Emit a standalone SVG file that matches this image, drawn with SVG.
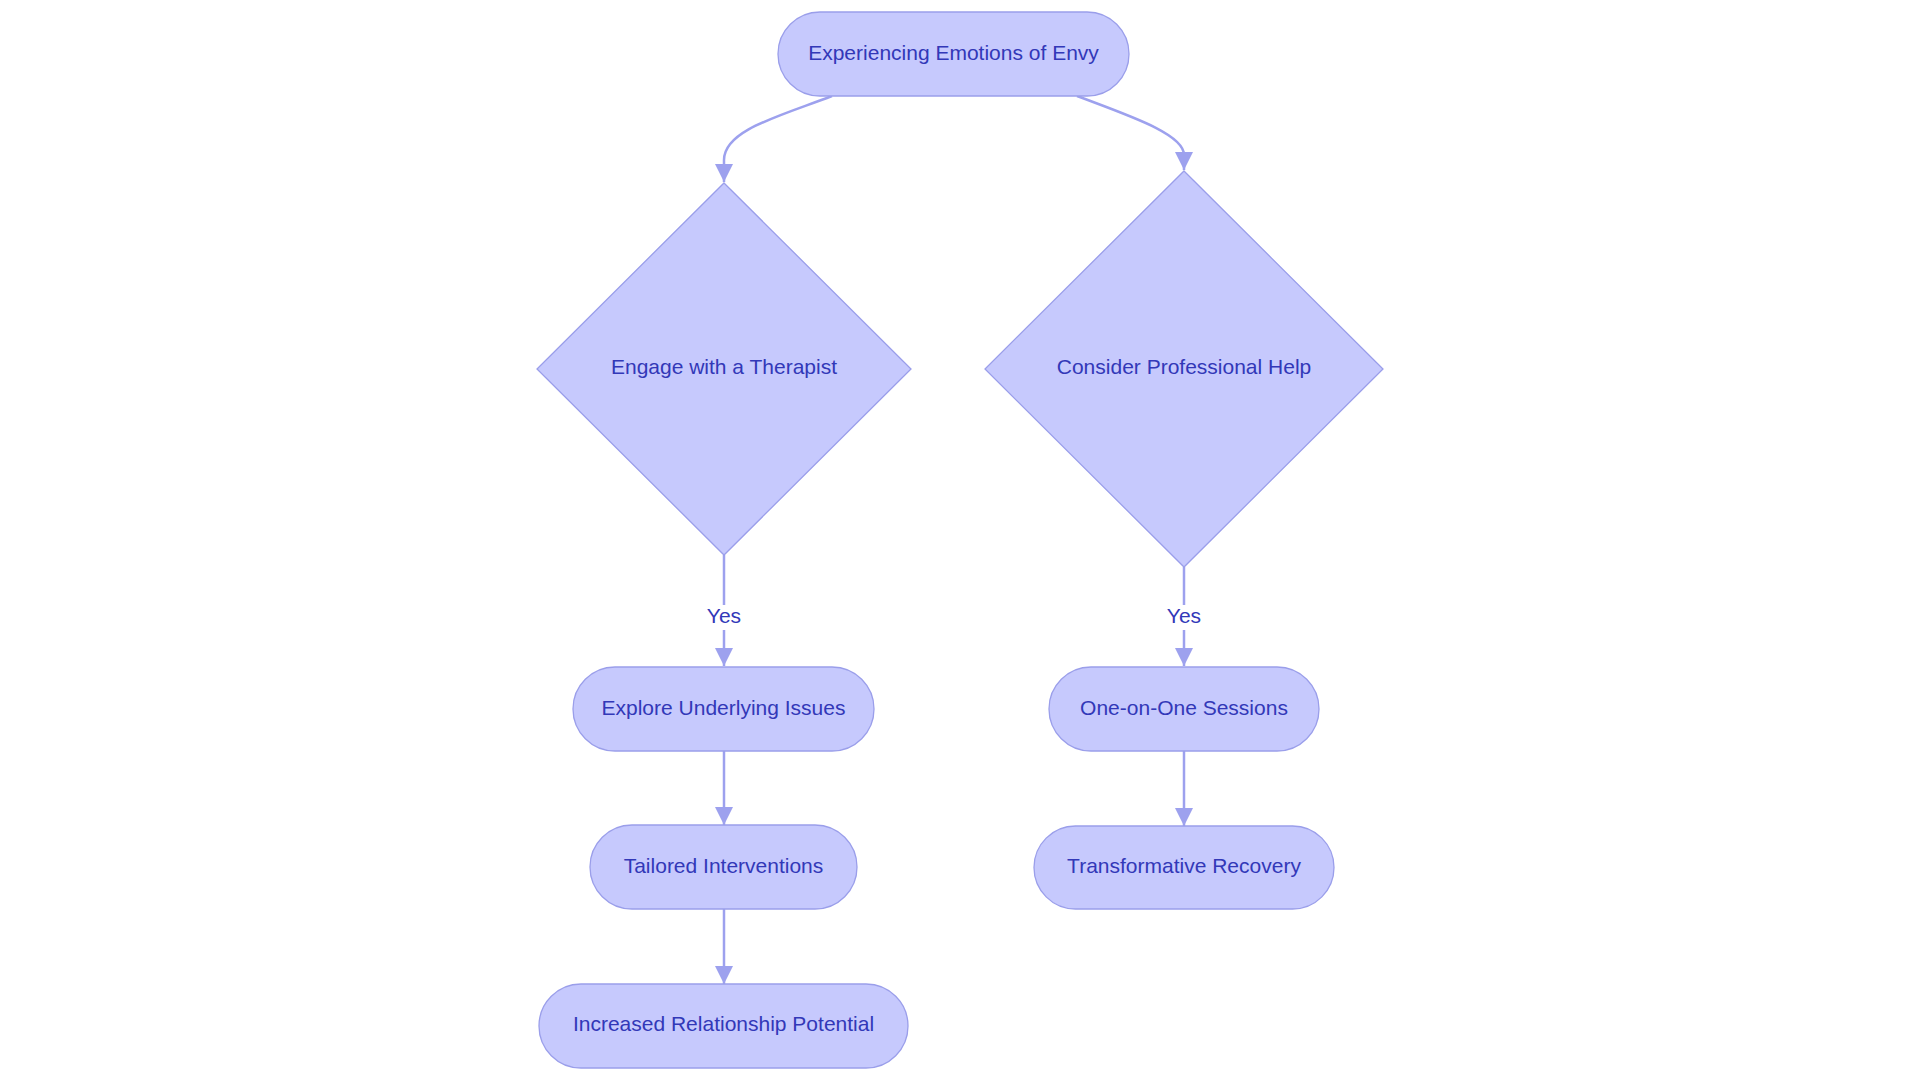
<svg xmlns="http://www.w3.org/2000/svg" width="1920" height="1083" viewBox="0 0 1920 1083">
<style>
.node{fill:#C6C9FD;stroke:#9A9EEA;stroke-width:1.3}
.lbl{font-family:"Liberation Sans",Arial,sans-serif;font-size:21px;fill:#3238B8;text-anchor:middle}
.edge{fill:none;stroke:#9DA1EE;stroke-width:2.5}
.elbg{fill:#FFFFFF}
</style>
<defs>
<marker id="arr" markerUnits="userSpaceOnUse" markerWidth="18" markerHeight="18" viewBox="0 0 10 10" refX="10" refY="5" orient="auto">
<path d="M0,0 L10,5 L0,10 z" fill="#9DA1EE"/>
</marker>
</defs>
<rect width="1920" height="1083" fill="#FFFFFF"/>
<g id="connectors">
<path class="edge" d="M832,96 C780,116 724,130 724,160 L724,182" marker-end="url(#arr)"/>
<path class="edge" d="M1077,96 C1130,116 1184,134 1184,155 L1184,170" marker-end="url(#arr)"/>
<path class="edge" d="M724,555 L724,666" marker-end="url(#arr)"/>
<path class="edge" d="M724,751 L724,825" marker-end="url(#arr)"/>
<path class="edge" d="M724,909 L724,984" marker-end="url(#arr)"/>
<path class="edge" d="M1184,567 L1184,666" marker-end="url(#arr)"/>
<path class="edge" d="M1184,751 L1184,826" marker-end="url(#arr)"/>
<g id="label-yes-left">
<rect class="elbg" x="705" y="605" width="38" height="25"/>
<text class="lbl" x="724" y="623">Yes</text>
</g>
<g id="label-yes-right">
<rect class="elbg" x="1165" y="605" width="38" height="25"/>
<text class="lbl" x="1184" y="623">Yes</text>
</g>
</g>
<g id="node-envy">
<rect class="node" x="778" y="12" width="351" height="84" rx="42" ry="42"/>
<text class="lbl" x="953.5" y="60">Experiencing Emotions of Envy</text>
</g>
<g id="node-therapist">
<polygon class="node" points="724,183 911,369 724,555 537,369"/>
<text class="lbl" x="724" y="374">Engage with a Therapist</text>
</g>
<g id="node-professional">
<polygon class="node" points="1184,171 1383,369 1184,567 985,369"/>
<text class="lbl" x="1184" y="374">Consider Professional Help</text>
</g>
<g id="node-explore">
<rect class="node" x="573" y="667" width="301" height="84" rx="42" ry="42"/>
<text class="lbl" x="723.5" y="715">Explore Underlying Issues</text>
</g>
<g id="node-tailored">
<rect class="node" x="590" y="825" width="267" height="84" rx="42" ry="42"/>
<text class="lbl" x="723.5" y="873">Tailored Interventions</text>
</g>
<g id="node-increased">
<rect class="node" x="539" y="984" width="369" height="84" rx="42" ry="42"/>
<text class="lbl" x="723.5" y="1031">Increased Relationship Potential</text>
</g>
<g id="node-sessions">
<rect class="node" x="1049" y="667" width="270" height="84" rx="42" ry="42"/>
<text class="lbl" x="1184" y="715">One-on-One Sessions</text>
</g>
<g id="node-recovery">
<rect class="node" x="1034" y="826" width="300" height="83" rx="41.5" ry="41.5"/>
<text class="lbl" x="1184" y="873">Transformative Recovery</text>
</g>
</svg>
